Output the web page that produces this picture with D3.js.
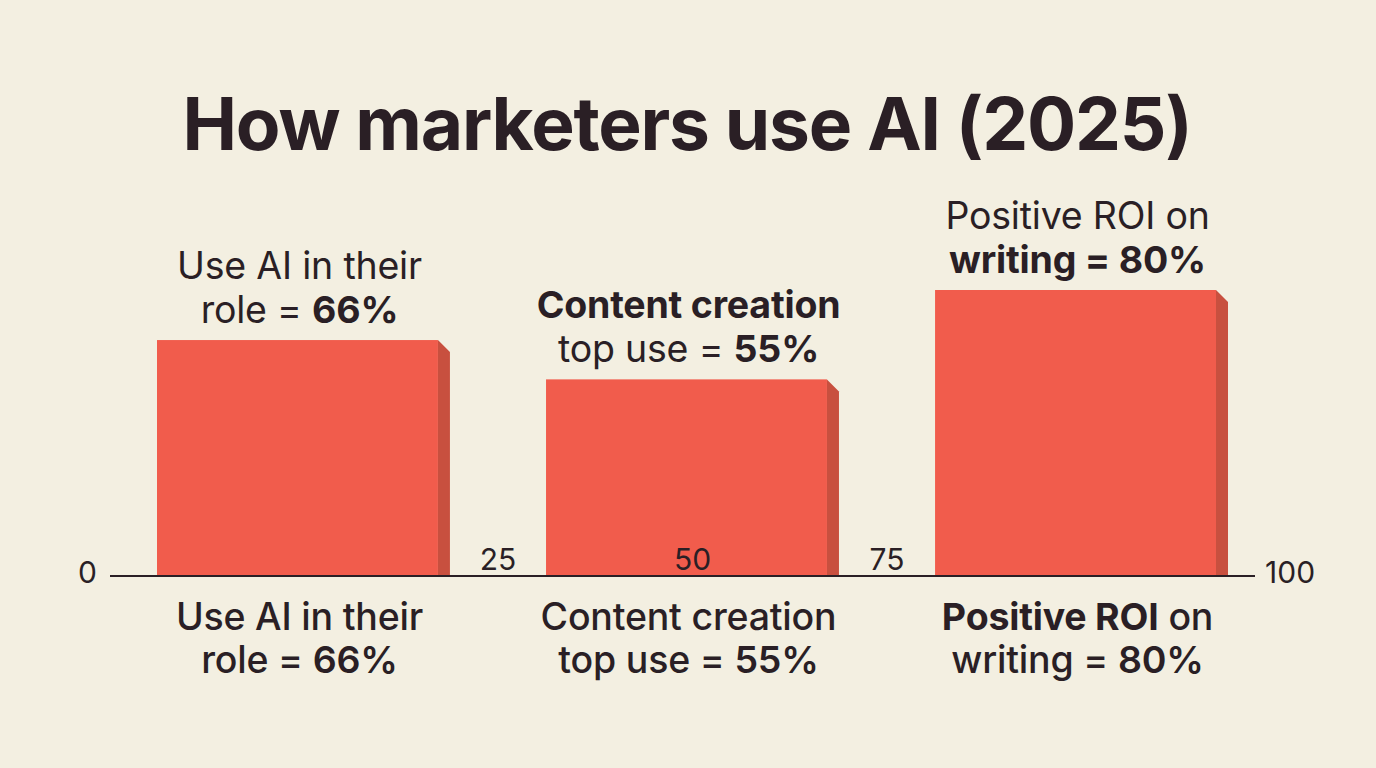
<!DOCTYPE html>
<html><head><meta charset="utf-8">
<script src="https://cdn.jsdelivr.net/npm/d3@7"></script>
<style>
body{margin:0;background:#f3efe1;}
svg{display:block}
text{font-family:Inter,"Noto Sans",sans-serif;fill:#2a1f25}
</style>
</head><body><svg id="c" width="1376" height="768"></svg>
<script>
const title = "How marketers use AI (2025)";
const categories = ["Use AI in their role", "Content creation top use", "Positive ROI on writing"];
const values = [66, 55, 80];
const tickValues = [0, 25, 50, 75, 100];
const tickLabels = ["0", "25", "50", "75", "100"];
const topLabels = [
  [[["Use AI in their", 400]], [["role = ", 400], ["66%", 700]]],
  [[["Content creation", 700]], [["top use = ", 400], ["55%", 700]]],
  [[["Positive ROI on", 400]], [["writing = 80%", 700]]]
];
const bottomLabels = [
  [[["Use AI in their", 500]], [["role = ", 500], ["66%", 600]]],
  [[["Content creation", 500]], [["top use = ", 500], ["55%", 600]]],
  [[["Positive ROI", 700], [" on", 500]], [["writing = ", 500], ["80%", 600]]]
];

const svg = d3.select("#c");
const W = 1376, H = 768;
svg.append("rect").attr("width", W).attr("height", H).attr("fill", "#f3efe1");

const x = d3.scaleBand().domain(categories).range([157, 1228]).paddingInner(0.247).paddingOuter(0);
const y = d3.scaleLinear().domain([0, 100]).range([576, 218.5]);
const depth = 12, slant = 12;
const bw = x.bandwidth();
const fw = bw - depth;

// title
svg.append("text").attr("x", W / 2 - 1).attr("y", 150).attr("text-anchor", "middle")
  .attr("font-size", 73).attr("font-weight", 700).attr("letter-spacing", "-1.2px").text(title);

// bars
const g = svg.append("g");
categories.forEach((c, i) => {
  const x0 = x(c), yt = y(values[i]), yb = y(0);
  g.append("rect").attr("x", x0).attr("y", yt).attr("width", fw).attr("height", yb - yt).attr("fill", "#f15c4c");
  g.append("polygon").attr("points", [[x0 + fw, yt], [x0 + fw + depth, yt + slant], [x0 + fw + depth, yb], [x0 + fw, yb]].map(p => p.join(",")).join(" "))
    .attr("fill", "#c8503f");
});

// axis
const axisStart = x.range()[0] - 47, axisEnd = x.range()[1] + 27;
svg.append("line").attr("x1", axisStart).attr("x2", axisEnd).attr("y1", y(0)).attr("y2", y(0))
  .attr("stroke", "#2a1f25").attr("stroke-width", 2);

const c0 = categories[0], c1 = categories[1], c2 = categories[2];
const tickX = d3.scaleLinear().domain(tickValues)
  .range([axisStart, (x(c0) + bw + x(c1)) / 2, x(c1) + bw / 2, (x(c1) + bw + x(c2)) / 2, axisEnd]);
tickValues.forEach((v, i) => {
  const tt = svg.append("text").attr("font-size", 30).attr("font-weight", 400).text(tickLabels[i]);
  if (i === 0) tt.attr("x", tickX(v) - 13).attr("y", y(0) + 7).attr("text-anchor", "end");
  else if (i === tickValues.length - 1) tt.attr("x", tickX(v) + 10).attr("y", y(0) + 7).attr("text-anchor", "start");
  else tt.attr("x", tickX(v)).attr("y", y(0) - 6).attr("text-anchor", "middle");
});

function drawLabel(lines, cx, y1, lh) {
  lines.forEach((segs, li) => {
    const tx = svg.append("text").attr("x", cx).attr("y", y1 + li * lh).attr("text-anchor", "middle")
      .attr("font-size", 37.5).attr("letter-spacing", "-0.2px");
    segs.forEach(s => tx.append("tspan").attr("font-weight", s[1]).text(s[0]));
  });
}
categories.forEach((c, i) => {
  const cx = x(c) + fw / 2 + 2;
  drawLabel(topLabels[i], cx, y(values[i]) - 17 - 44, 44);
  drawLabel(bottomLabels[i], cx, 630, 43);
});
</script>
</body></html>
